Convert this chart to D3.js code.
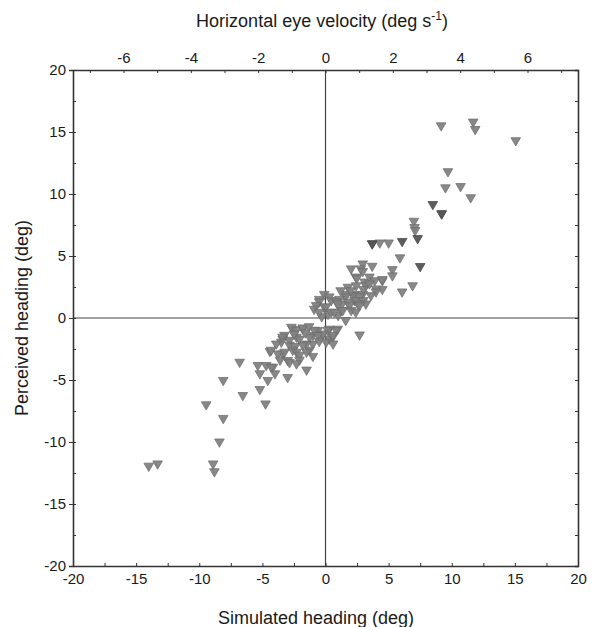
<!DOCTYPE html>
<html>
<head>
<meta charset="utf-8">
<script src="https://cdn.jsdelivr.net/npm/d3@7"></script>
<style>
  html, body { margin: 0; padding: 0; background: #fff; }
  svg { display: block; }
  text { font-family: "Liberation Sans", Arial, sans-serif; fill: #1a1a1a; }
</style>
</head>
<body>
<svg id="chart" width="595" height="627"></svg>
<script>
// ---- data (simulated heading, perceived heading), in degrees ----
const pointsGray = [
  [9.16, 15.6], [11.7, 15.9], [11.86, 15.3], [15.07, 14.4],
  [9.7, 11.9], [9.5, 10.6], [10.7, 10.7], [11.5, 9.8], [9.2, 8.5],
  [7.0, 7.9], [7.05, 7.4], [7.1, 7.15],
  [3.7, 6.1], [4.3, 6.15], [5.0, 6.15],
  [5.9, 4.95], [5.3, 4.0], [5.3, 3.5], [4.5, 3.1], [4.5, 2.4], [6.9, 2.7], [6.07, 2.2],
  [2.95, 4.46], [2.03, 4.06], [2.8, 4.06], [2.95, 3.85], [3.7, 4.27],
  [2.4, 3.4], [2.48, 3.3], [3.1, 3.0], [3.48, 3.4], [3.9, 3.1], [4.5, 3.2],
  [1.77, 2.58], [2.43, 2.7], [3.2, 2.7], [3.48, 2.85], [4.0, 2.44], [4.0, 2.2],
  [1.6, 2.0], [2.3, 2.0], [2.95, 2.0], [3.6, 1.9], [2.2, 1.9], [2.7, 1.8], [1.6, 1.8],
  [1.2, 2.3], [2.0, 2.3], [3.0, 2.4], [1.3, 1.2], [2.3, 1.5], [3.0, 1.5],
  [-0.1, 2.0], [0.3, 1.8], [-0.5, 1.6], [0.45, 1.5], [1.1, 1.6], [-0.5, 1.4], [0.85, 1.4],
  [-0.74, 1.1], [-0.08, 0.97], [0.97, 1.23], [1.77, 1.37], [2.56, 1.23], [3.2, 1.23],
  [1.9, 1.1], [2.7, 1.1], [-0.9, 0.8], [0.05, 1.0], [0.2, 0.4], [1.0, 0.3], [-0.3, 0.2],
  [-0.5, 0.56], [0.45, 0.56], [0.7, 0.56], [1.24, 0.7], [2.03, 0.7], [2.4, 0.56], [1.37, 0.7],
  [1.6, -0.1], [2.7, -1.27],
  [0.3, -0.8], [0.97, -0.8], [-0.6, -0.9], [-0.87, -0.9], [0.18, -0.9], [0.85, -0.9],
  [-2.6, -0.8], [-1.8, -0.8], [-2.7, -0.65], [-2.3, -0.9], [-1.8, -0.7], [-1.3, -0.6],
  [0.3, -1.6], [-0.34, -1.45], [0.58, -1.45], [-3.4, -1.6], [-3.25, -1.3],
  [-3.4, -1.45], [-2.3, -1.45], [-1.0, -1.3], [-0.2, -1.2], [0.58, -1.3], [-0.6, -1.3],
  [-2.85, -1.7], [-2.06, -1.6], [-1.27, -1.45], [-3.5, -1.85], [-1.6, -1.1], [-2.5, -1.2],
  [0.05, -1.85], [0.6, -2.0], [-1.0, -2.0], [-0.5, -1.8], [-1.5, -2.0],
  [-3.9, -2.0], [-2.85, -2.1], [-1.8, -2.1], [-2.4, -2.2],
  [-4.4, -2.6], [-4.3, -2.5], [-3.4, -2.8], [-3.77, -2.8], [-3.25, -2.66], [-2.6, -2.5],
  [-2.3, -2.66], [-1.27, -2.5], [-2.06, -2.9], [-1.5, -2.66], [-1.0, -3.0],
  [-3.6, -3.3], [-3.0, -3.33], [-2.85, -3.5], [-2.06, -3.3], [-2.3, -3.6],
  [-1.5, -4.1], [-3.0, -4.7],
  [-5.36, -3.73], [-4.7, -3.73], [-4.17, -3.87], [-4.3, -3.87],
  [-5.2, -4.4], [-4.0, -4.4], [-4.57, -4.94], [-5.2, -5.67],
  [-6.8, -3.47], [-8.1, -4.94], [-6.55, -6.15], [-4.75, -6.83],
  [-9.45, -6.9], [-8.1, -8.0], [-8.4, -9.9],
  [-14.0, -11.85], [-13.3, -11.67], [-8.9, -11.67], [-8.8, -12.3]
];
const pointsDark = [
  [8.5, 9.25], [9.2, 8.5], [7.3, 6.5], [6.07, 6.27], [7.5, 4.25], [3.7, 6.07]
];

// ---- axis ticks ----
const bottomTicks = [-20, -15, -10, -5, 0, 5, 10, 15, 20];
const leftTicks = [-20, -15, -10, -5, 0, 5, 10, 15, 20];
const topTicks = [-6, -4, -2, 0, 2, 4, 6];

const svg = d3.select("#chart");
const m = { left: 73, right: 578, top: 70, bottom: 566 };

const x = d3.scaleLinear().domain([-20, 20]).range([m.left, m.right]);
const y = d3.scaleLinear().domain([-20, 20]).range([m.bottom, m.top]);
const xTop = d3.scaleLinear().domain([-7.5, 7.5]).range([m.left, m.right]);

const axisColor = "#333";
const fmt = d => String(d);

// zero lines
svg.append("line").attr("x1", x(0)).attr("x2", x(0)).attr("y1", m.top).attr("y2", m.bottom)
  .attr("stroke", "#444").attr("stroke-width", 1.2);
svg.append("line").attr("x1", m.left).attr("x2", m.right).attr("y1", y(0)).attr("y2", y(0))
  .attr("stroke", "#444").attr("stroke-width", 1.2);

// points
const tri = d3.symbol().type(d3.symbolTriangle).size(40);
function drawPoints(data, fill, stroke) {
  svg.append("g").selectAll("path").data(data).join("path")
    .attr("d", tri)
    .attr("transform", d => `translate(${x(d[0])},${y(d[1]) + 1}) rotate(180)`)
    .attr("fill", fill)
    .attr("stroke", stroke)
    .attr("stroke-width", 0.8)
    .attr("opacity", 0.95);
}
drawPoints(pointsGray, "#828282", "#6c6c6c");
drawPoints(pointsDark, "#555", "#444");

// axes
function styleAxis(g) {
  g.select(".domain").attr("stroke", axisColor).attr("stroke-width", 1.6);
  g.selectAll(".tick line").attr("stroke", axisColor).attr("stroke-width", 1);
  g.selectAll(".tick text").attr("font-size", 15).attr("fill", "#1a1a1a")
    .attr("font-family", "'Liberation Sans', Arial, sans-serif");
}

// bottom: labels
const gB = svg.append("g").attr("transform", `translate(0,${m.bottom})`)
  .call(d3.axisBottom(x).tickValues(bottomTicks).tickSize(0).tickPadding(7).tickFormat(fmt));
styleAxis(gB);
svg.append("g").attr("transform", `translate(0,${m.bottom})`)
  .call(d3.axisTop(x).tickValues(d3.range(-20, 20.1, 2.5)).tickSize(3).tickFormat(""))
  .call(g => { g.select(".domain").remove(); g.selectAll("line").attr("stroke", axisColor); });

// left
const gL = svg.append("g").attr("transform", `translate(${m.left},0)`)
  .call(d3.axisLeft(y).tickValues(leftTicks).tickSize(4).tickPadding(3).tickFormat(fmt));
styleAxis(gL);
svg.append("g").attr("transform", `translate(${m.left},0)`)
  .call(d3.axisRight(y).tickValues(d3.range(-20, 20.1, 2.5)).tickSize(3).tickFormat(""))
  .call(g => { g.select(".domain").remove(); g.selectAll("line").attr("stroke", axisColor); });

// right
const gR = svg.append("g").attr("transform", `translate(${m.right},0)`)
  .call(d3.axisLeft(y).tickValues(d3.range(-20, 20.1, 2.5)).tickSize(3).tickFormat(""));
styleAxis(gR);

// top
const gT = svg.append("g").attr("transform", `translate(0,${m.top})`)
  .call(d3.axisTop(xTop).tickValues(topTicks).tickSize(0).tickPadding(7).tickFormat(fmt));
styleAxis(gT);
svg.append("g").attr("transform", `translate(0,${m.top})`)
  .call(d3.axisBottom(xTop).tickValues(d3.range(-7, 7.1, 1)).tickSize(3).tickFormat(""))
  .call(g => { g.select(".domain").remove(); g.selectAll("line").attr("stroke", axisColor); });

// titles
const tTop = svg.append("text").attr("x", 322).attr("y", 27).attr("text-anchor", "middle")
  .attr("font-size", 18);
tTop.append("tspan").text("Horizontal eye velocity (deg s");
tTop.append("tspan").attr("font-size", 12).attr("dy", -7).text("-1");
tTop.append("tspan").attr("dy", 7).text(")");

svg.append("text").attr("x", 316).attr("y", 624).attr("text-anchor", "middle")
  .attr("font-size", 18).text("Simulated heading (deg)");

svg.append("text").attr("transform", `translate(28,${(m.top + m.bottom) / 2}) rotate(-90)`)
  .attr("text-anchor", "middle").attr("font-size", 18).text("Perceived heading (deg)");
</script>
</body>
</html>
